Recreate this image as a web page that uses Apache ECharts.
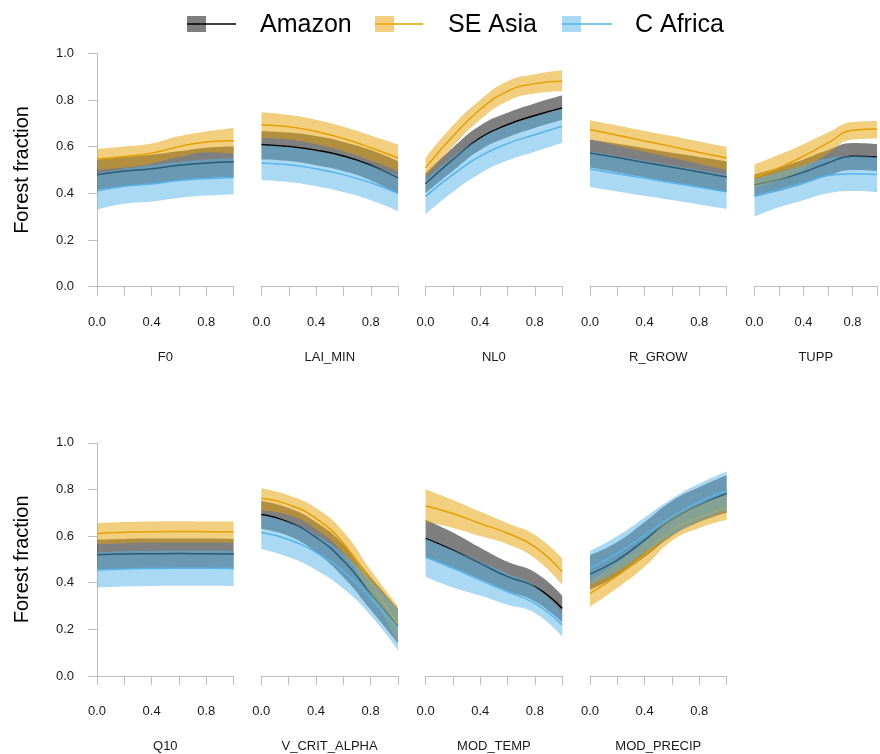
<!DOCTYPE html>
<html><head><meta charset="utf-8">
<script src="https://cdn.jsdelivr.net/npm/echarts@6/dist/echarts.min.js"></script>
<style>html,body{margin:0;padding:0;background:#fff}#c{width:880px;height:754px}</style>
</head><body><div id="c"></div>
<script>
const params = ['F0','LAI_MIN','NL0','R_GROW','TUPP','Q10','V_CRIT_ALPHA','MOD_TEMP','MOD_PRECIP'];
const xs = [0, 0.2, 0.4, 0.6, 0.8, 1.0];
const yTicks = [0, 0.2, 0.4, 0.6, 0.8, 1.0];
const regions = ['Amazon', 'SE Asia', 'C Africa'];

// Amazon
const amazonMid = [
  [0.479,0.495,0.505,0.52,0.53,0.535],
  [0.609,0.600,0.585,0.56,0.52,0.466],
  [0.441,0.544,0.637,0.694,0.733,0.766],
  [0.573,0.553,0.532,0.512,0.491,0.47],
  [0.437,0.459,0.49,0.53,0.559,0.556],
  [0.52,0.523,0.524,0.525,0.524,0.523],
  [0.693,0.66,0.595,0.495,0.355,0.215],
  [0.59,0.54,0.483,0.426,0.383,0.29],
  [0.437,0.497,0.583,0.672,0.733,0.783]
];
const amazonLo = [
  [0.414,0.43,0.44,0.455,0.465,0.47],
  [0.545,0.538,0.52,0.495,0.455,0.396],
  [0.40,0.495,0.585,0.64,0.68,0.715],
  [0.51,0.489,0.468,0.447,0.426,0.405],
  [0.385,0.41,0.44,0.475,0.50,0.495],
  [0.455,0.458,0.46,0.46,0.46,0.458],
  [0.63,0.60,0.53,0.425,0.285,0.14],
  [0.51,0.465,0.415,0.365,0.32,0.23],
  [0.37,0.43,0.51,0.60,0.66,0.70]
];
const amazonHi = [
  [0.543,0.555,0.565,0.58,0.595,0.60],
  [0.666,0.66,0.645,0.62,0.585,0.537],
  [0.485,0.595,0.69,0.745,0.785,0.82],
  [0.63,0.612,0.593,0.574,0.556,0.537],
  [0.48,0.51,0.545,0.585,0.615,0.61],
  [0.585,0.588,0.59,0.59,0.59,0.588],
  [0.75,0.72,0.66,0.565,0.425,0.29],
  [0.67,0.615,0.55,0.49,0.445,0.345],
  [0.519,0.575,0.66,0.75,0.81,0.861]
];
// SE Asia
const seAsiaMid = [
  [0.547,0.558,0.572,0.60,0.62,0.625],
  [0.694,0.685,0.665,0.635,0.595,0.551],
  [0.509,0.644,0.759,0.837,0.870,0.88],
  [0.673,0.649,0.624,0.600,0.575,0.551],
  [0.47,0.509,0.559,0.616,0.67,0.676],
  [0.611,0.616,0.619,0.62,0.619,0.617],
  [0.762,0.735,0.676,0.57,0.40,0.222],
  [0.729,0.697,0.654,0.612,0.554,0.447],
  [0.354,0.43,0.52,0.625,0.68,0.72]
];
const seAsiaLo = [
  [0.50,0.51,0.527,0.555,0.575,0.57],
  [0.637,0.63,0.61,0.58,0.54,0.494],
  [0.47,0.60,0.715,0.795,0.828,0.837],
  [0.63,0.604,0.578,0.552,0.526,0.50],
  [0.425,0.455,0.505,0.57,0.63,0.635],
  [0.565,0.569,0.572,0.573,0.572,0.57],
  [0.71,0.69,0.63,0.525,0.35,0.15],
  [0.66,0.635,0.60,0.565,0.505,0.39],
  [0.297,0.377,0.468,0.58,0.635,0.669]
];
const seAsiaHi = [
  [0.59,0.60,0.613,0.645,0.665,0.68],
  [0.747,0.735,0.715,0.685,0.648,0.609],
  [0.551,0.69,0.80,0.88,0.91,0.927],
  [0.713,0.690,0.667,0.645,0.622,0.599],
  [0.523,0.565,0.61,0.66,0.705,0.71],
  [0.655,0.66,0.663,0.664,0.663,0.662],
  [0.805,0.775,0.72,0.62,0.455,0.30],
  [0.80,0.755,0.705,0.655,0.605,0.505],
  [0.41,0.485,0.575,0.68,0.735,0.775]
];
// C Africa
const cAfricaMid = [
  [0.41,0.43,0.44,0.455,0.462,0.468],
  [0.53,0.522,0.505,0.48,0.445,0.40],
  [0.387,0.48,0.559,0.613,0.651,0.687],
  [0.504,0.484,0.465,0.445,0.426,0.406],
  [0.387,0.416,0.444,0.476,0.484,0.48],
  [0.455,0.459,0.461,0.462,0.462,0.461],
  [0.615,0.585,0.53,0.45,0.335,0.20],
  [0.509,0.462,0.411,0.361,0.311,0.219],
  [0.461,0.526,0.604,0.683,0.747,0.793]
];
const cAfricaLo = [
  [0.33,0.355,0.365,0.38,0.39,0.396],
  [0.456,0.448,0.43,0.405,0.37,0.323],
  [0.31,0.405,0.485,0.54,0.578,0.615],
  [0.427,0.408,0.389,0.371,0.352,0.333],
  [0.30,0.34,0.37,0.40,0.41,0.405],
  [0.38,0.384,0.386,0.387,0.387,0.386],
  [0.545,0.51,0.455,0.375,0.26,0.11],
  [0.425,0.38,0.345,0.305,0.27,0.168],
  [0.39,0.45,0.53,0.605,0.665,0.71]
];
const cAfricaHi = [
  [0.486,0.505,0.52,0.535,0.545,0.55],
  [0.605,0.598,0.58,0.555,0.52,0.477],
  [0.46,0.555,0.635,0.69,0.727,0.76],
  [0.58,0.56,0.54,0.52,0.50,0.48],
  [0.46,0.49,0.52,0.55,0.56,0.555],
  [0.53,0.535,0.537,0.538,0.538,0.537],
  [0.69,0.66,0.605,0.525,0.41,0.285],
  [0.59,0.54,0.49,0.44,0.385,0.27],
  [0.535,0.60,0.68,0.76,0.825,0.877]
];

const FONT = '"Liberation Sans", Arial, Helvetica, sans-serif';
const lineColors = ['#000000', '#E69F00', '#56B4E9'];
const bandColors = ['rgba(0,0,0,0.5)', 'rgba(230,159,0,0.5)', 'rgba(86,180,233,0.5)'];
const mids = [amazonMid, seAsiaMid, cAfricaMid];
const los = [amazonLo, seAsiaLo, cAfricaLo];
const his = [amazonHi, seAsiaHi, cAfricaHi];

const colLefts = [[97, 261.5, 425.5, 590, 754.5], [97, 261.3, 425.6, 590]];
const rowTops = [53.3, 442.8];
const W = 136.6, H = 233.3;
const axisGray = '#bdbdbd';
const SMOOTH = 0.5;

const grids = [], xAxes = [], yAxes = [], series = [];
params.forEach((p, i) => {
  const row = i < 5 ? 0 : 1;
  const col = row === 0 ? i : i - 5;
  grids.push({ left: colLefts[row][col], top: rowTops[row], width: W, height: H });
  // visible value axis (ticks & labels)
  xAxes.push({
    gridIndex: i, type: 'value', min: 0, max: 1, interval: 0.2, offset: 9,
    name: p, nameLocation: 'middle', nameGap: 55,
    nameTextStyle: { fontFamily: FONT, fontSize: 13, color: '#1a1a1a' },
    axisLine: { show: true, lineStyle: { color: axisGray, width: 1 } },
    axisTick: { show: true, length: 9, lineStyle: { color: axisGray, width: 1 } },
    axisLabel: {
      fontFamily: FONT, fontSize: 13, color: '#1a1a1a', margin: 20,
      formatter: v => (Math.round(v * 10) % 4 === 0 ? v.toFixed(1) : '')
    },
    splitLine: { show: false }
  });
  // hidden category axis at the same x positions, carrying the series
  xAxes.push({
    gridIndex: i, type: 'category', boundaryGap: false, show: false,
    data: xs.map(x => x.toFixed(1))
  });
  yAxes.push({
    gridIndex: i, type: 'value', min: 0, max: 1, interval: 0.2, show: col === 0, offset: 6,
    name: 'Forest fraction', nameLocation: 'middle', nameGap: 59,
    nameTextStyle: { fontFamily: FONT, fontSize: 20, color: '#000' },
    axisLine: { show: true, lineStyle: { color: axisGray, width: 1 } },
    axisTick: { show: true, length: 9, lineStyle: { color: axisGray, width: 1 } },
    axisLabel: { fontFamily: FONT, fontSize: 13, color: '#1a1a1a', margin: 17,
      formatter: v => v.toFixed(1) },
    splitLine: { show: false }
  });
  const xi = 2 * i + 1;
  for (let r = 0; r < 3; r++) {
    const lo = los[r][i], hi = his[r][i], mid = mids[r][i];
    const stackKey = 'g' + i + 'r' + r;
    const zBase = 2 + r * 3;
    series.push({
      type: 'line', xAxisIndex: xi, yAxisIndex: i, stack: stackKey, smooth: SMOOTH,
      symbol: 'none', silent: true, z: zBase, lineStyle: { width: 0, opacity: 0 },
      data: lo.slice()
    });
    series.push({
      type: 'line', xAxisIndex: xi, yAxisIndex: i, stack: stackKey, smooth: SMOOTH,
      symbol: 'none', silent: true, z: zBase + 1, lineStyle: { width: 0, opacity: 0 },
      areaStyle: { color: bandColors[r], opacity: 1 },
      data: hi.map((h, k) => h - lo[k])
    });
    series.push({
      type: 'line', xAxisIndex: xi, yAxisIndex: i, smooth: SMOOTH, name: regions[r],
      symbol: 'none', silent: true, z: zBase + 2, lineStyle: { width: 1.5, color: lineColors[r] },
      data: mid.slice()
    });
  }
});

// legend drawn as graphic elements
const legendItems = [
  { box: 187, lineEnd: 236, text: 260 },
  { box: 375, lineEnd: 423, text: 448 },
  { box: 562, lineEnd: 612, text: 635 }
];
const graphic = [];
legendItems.forEach((it, r) => {
  graphic.push({ type: 'rect', left: it.box, top: 16, shape: { width: 19, height: 16 },
    style: { fill: bandColors[r] } });
  graphic.push({ type: 'line', shape: { x1: it.box, y1: 24, x2: it.lineEnd, y2: 24 },
    style: { stroke: lineColors[r], lineWidth: 1.5 } });
  graphic.push({ type: 'text', left: it.text, top: 13,
    style: { text: regions[r], font: '25px ' + FONT, fill: '#000' } });
});

const chart = echarts.init(document.getElementById('c'), null, { renderer: 'canvas' });
chart.setOption({
  animation: false,
  backgroundColor: '#fff',
  grid: grids, xAxis: xAxes, yAxis: yAxes, series: series, graphic: graphic
});
</script></body></html>
